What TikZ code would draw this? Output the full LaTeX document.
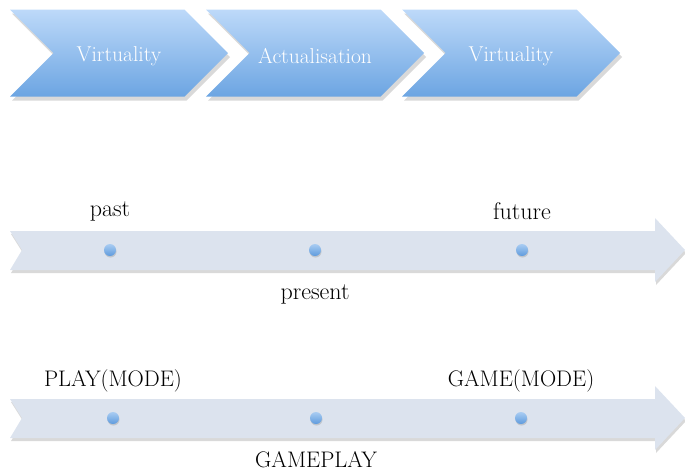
\documentclass[tikz,border=0pt]{standalone}
\usetikzlibrary{positioning,shapes.symbols,shadows}
\definecolor{chevtop}{HTML}{BDD9F9}
\definecolor{chevbot}{HTML}{6CA5E2}
\definecolor{bandcol}{HTML}{DCE3EE}
\definecolor{dottop}{HTML}{A9CCF2}
\definecolor{dotbot}{HTML}{5E9BDD}

\begin{document}
\begin{tikzpicture}[x=1pt,y=-1pt,node distance=40pt,on grid,
   chevron/.style={signal,signal from=west,signal to=east,draw=none,
      minimum width=218pt,minimum height=87pt,inner sep=0pt,
      text height=22pt,
      top color=chevtop,bottom color=chevbot,text=white,
      font=\fontsize{21.5}{24}\selectfont,
      drop shadow={shadow xshift=2pt,shadow yshift=-4pt,opacity=0.3}},
   band/.style={fill=bandcol,
      drop shadow={shadow xshift=1pt,shadow yshift=-3pt,opacity=0.3}},
   tdot/.style={circle,minimum size=12pt,inner sep=0pt,
      top color=dottop,bottom color=dotbot,
      drop shadow={shadow xshift=0.5pt,shadow yshift=-1.5pt,opacity=0.3}},
   tlabel/.style={font=\fontsize{24}{27}\selectfont},
   tcaps/.style={font=\fontsize{22.5}{26}\selectfont}]
   \useasboundingbox (0,0) rectangle (685,472);

   % the three steps
   \node[chevron] (virt_a) at (119,53) {Virtuality};
   \node[chevron] (actual) at (315,53) {Actualisation};
   \node[chevron] (virt_b) at (511,53) {Virtuality};

   % time line
   \fill[band] (10,231) -- (655,231) -- (655,218) -- (685,250)
      -- (655,282) -- (655,270) -- (10,270) -- (22,250) -- cycle;
   \node[tdot] (past)    at (110,250) {};
   \node[tdot] (present) at (315,250) {};
   \node[tdot] (future)  at (522,250) {};
   \node[tlabel] (past_l)    [above=39pt of past]    {past};
   \node[tlabel] (present_l) [below=44pt of present] {present};
   \node[tlabel] (future_l)  [above=39pt of future]  {future};

   % play / game line
   \fill[band] (10,399) -- (655,399) -- (655,386) -- (685,418)
      -- (655,450) -- (655,438) -- (10,438) -- (22,418) -- cycle;
   \node[tdot] (play)     at (113,418) {};
   \node[tdot] (gameplay) at (316,418) {};
   \node[tdot] (game)     at (521,418) {};
   \node[tcaps] (play_l)     [above=37pt of play]     {PLAY(MODE)};
   \node[tcaps] (gameplay_l) [below=42pt of gameplay] {GAMEPLAY};
   \node[tcaps] (game_l)     [above=37pt of game]     {GAME(MODE)};
\end{tikzpicture}
\end{document}
